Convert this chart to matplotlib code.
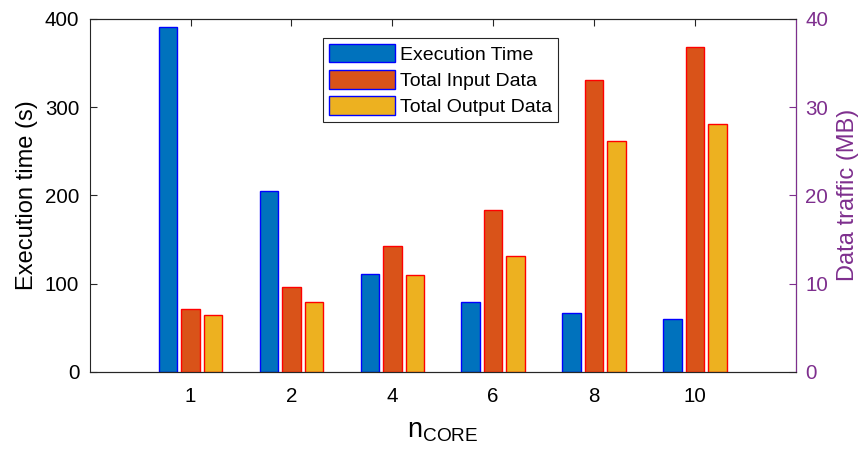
import numpy as np
import matplotlib
matplotlib.use('Agg')
import matplotlib.pyplot as plt
from matplotlib.patches import Patch

plt.rcParams['font.family'] = ['Liberation Sans', 'DejaVu Sans']

# datos
cores = ['1', '2', '4', '6', '8', '10']
exec_time = [391, 205, 111, 79, 66, 60]        # s
input_data = [7.1, 9.6, 14.2, 18.3, 33.1, 36.8]  # MB
output_data = [6.4, 7.9, 11.0, 13.1, 26.1, 28.1]  # MB

azul = '#0072BD'
naranja = '#D95319'
amarillo = '#EDB120'
morado = '#7E2F8E'

x = np.arange(1, len(cores) + 1)
ancho = 0.183
sep = 0.223

fig = plt.figure(figsize=(8.64, 4.5), dpi=100)
ax1 = fig.add_axes([0.1038, 0.174, 0.8172, 0.784])
ax2 = ax1.twinx()

ax1.bar(x - sep, exec_time, ancho, color=azul, edgecolor='#0000FF', linewidth=1)
ax2.bar(x, input_data, ancho, color=naranja, edgecolor='#FF0000', linewidth=1)
ax2.bar(x + sep, output_data, ancho, color=amarillo, edgecolor='#FF0000', linewidth=1)

ax1.set_xlim(0, 7)
ax1.set_ylim(0, 400)
ax2.set_ylim(0, 40)
ax1.set_xticks(x)
ax1.set_xticklabels(cores)
ax1.set_yticks([0, 100, 200, 300, 400])
ax2.set_yticks([0, 10, 20, 30, 40])

ax1.tick_params(axis='both', direction='in', labelsize=14.8, length=5, width=0.8,
                colors='#262626', labelcolor='black', pad=7.5)
ax1.tick_params(axis='x', top=True, pad=11)
ax2.tick_params(axis='y', direction='in', labelsize=14.8, length=5, width=0.8,
                colors=morado, pad=7)

for s in ['left', 'bottom', 'top']:
    ax1.spines[s].set_color('#262626')
ax2.spines['right'].set_color(morado)
ax2.spines['left'].set_visible(False)
ax2.spines['top'].set_color('#262626')
ax2.spines['bottom'].set_color('#262626')

ax1.set_ylabel('Execution time (s)', fontsize=17, labelpad=5)
ax2.set_ylabel('Data traffic (MB)', fontsize=17, color=morado, labelpad=6)
ax1.set_xlabel(r'$\mathregular{n_{CORE}}$', fontsize=19.5, labelpad=9)

handles = [
    Patch(facecolor=azul, edgecolor='#0000FF', label='Execution Time'),
    Patch(facecolor=naranja, edgecolor='#0000FF', label='Total Input Data'),
    Patch(facecolor=amarillo, edgecolor='#0000FF', label='Total Output Data'),
]
leg = ax2.legend(handles=handles, loc='upper left', bbox_to_anchor=(0.374, 0.9156),
                 bbox_transform=fig.transFigure, borderaxespad=0, fontsize=14,
                 fancybox=False, framealpha=1, edgecolor='#262626',
                 handlelength=3.4, handleheight=1.1, labelspacing=0.32,
                 handletextpad=0.25, borderpad=0.3)
leg.get_frame().set_linewidth(0.8)

fig.savefig('out.png', dpi=100)
